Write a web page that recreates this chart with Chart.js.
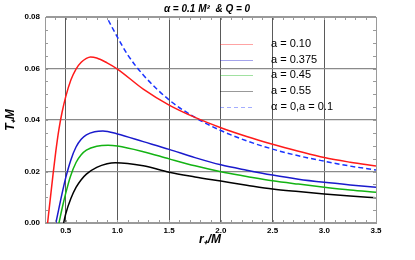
<!DOCTYPE html>
<html>
<head>
<meta charset="utf-8">
<script src="https://cdn.jsdelivr.net/npm/chart.js@4"></script>
<style>
  html, body { margin: 0; padding: 0; background: #fff; }
  #wrap { width: 415px; height: 260px; }
</style>
</head>
<body>
<div id="wrap"><canvas id="chart" width="415" height="260"></canvas></div>
<script>
// данные кривых T(r)
const rA010 = [0.325, 0.35, 0.378, 0.405, 0.433, 0.465, 0.5, 0.55, 0.6, 0.65, 0.7, 0.74, 0.8, 0.9, 1.0, 1.25, 1.5, 1.75, 2.0, 2.25, 2.5, 2.75, 3.0, 3.25, 3.5];
const tA010 = [0, 0.009, 0.019, 0.028, 0.036, 0.043, 0.049, 0.0555, 0.0598, 0.0624, 0.0639, 0.0645, 0.0641, 0.0622, 0.0598, 0.052, 0.0458, 0.041, 0.037, 0.0336, 0.0306, 0.0279, 0.0254, 0.0236, 0.0221];

const rA0375 = [0.405, 0.43, 0.46, 0.5, 0.55, 0.6, 0.65, 0.7, 0.78, 0.86, 1.0, 1.25, 1.5, 1.75, 2.0, 2.25, 2.5, 2.75, 3.0, 3.25, 3.5];
const tA0375 = [0, 0.0048, 0.0105, 0.0175, 0.0245, 0.0295, 0.0325, 0.0342, 0.0354, 0.0357, 0.0346, 0.0316, 0.0286, 0.0254, 0.0226, 0.0205, 0.0186, 0.017, 0.0158, 0.0148, 0.0139];

const rA045 = [0.435, 0.47, 0.5, 0.545, 0.6, 0.65, 0.7, 0.8, 0.91, 1.0, 1.25, 1.5, 1.75, 2.0, 2.25, 2.5, 2.75, 3.0, 3.25, 3.5];
const tA045 = [0, 0.0065, 0.0115, 0.018, 0.0235, 0.0265, 0.0283, 0.0298, 0.0302, 0.0299, 0.0277, 0.0249, 0.0222, 0.0199, 0.0181, 0.0164, 0.0151, 0.0139, 0.0128, 0.0119];

const rA055 = [0.48, 0.5, 0.55, 0.6, 0.65, 0.7, 0.8, 0.9, 0.98, 1.25, 1.5, 1.75, 2.0, 2.25, 2.5, 2.75, 3.0, 3.25, 3.5];
const tA055 = [0, 0.0035, 0.0095, 0.0138, 0.0168, 0.019, 0.0216, 0.023, 0.0234, 0.0222, 0.0197, 0.0179, 0.0163, 0.0147, 0.0132, 0.0122, 0.0113, 0.0105, 0.0098];

// штриховая: alpha = 0, a = 0.1
const rAlpha0 = [0.88, 0.9, 1.0, 1.1, 1.25, 1.5, 1.75, 2.0, 2.25, 2.5, 2.75, 3.0, 3.25, 3.5];
const tAlpha0 = [0.0816, 0.0798, 0.0722, 0.0653, 0.0575, 0.0478, 0.041, 0.0359, 0.0319, 0.0287, 0.0261, 0.024, 0.0221, 0.0206];

const xTicks = [0.5, 1.0, 1.5, 2.0, 2.5, 3.0, 3.5];
const yTicks = [0, 0.02, 0.04, 0.06, 0.08];
const seriesLabels = ["a = 0.10", "a = 0.375", "a = 0.45", "a = 0.55", "α = 0,a = 0.1"];
const seriesColors = ["#ff1a1a", "#1a1acc", "#13b313", "#000000", "#1a33ff"];

function pts(xs, ys) {
  return xs.map((x, i) => ({ x: x, y: ys[i] }));
}

const datasets = [
  { data: pts(rA010, tA010) },
  { data: pts(rA0375, tA0375) },
  { data: pts(rA045, tA045) },
  { data: pts(rA055, tA055) },
  { data: pts(rAlpha0, tAlpha0), borderDash: [5, 3] },
].map((d, i) => Object.assign({
  label: seriesLabels[i],
  borderColor: seriesColors[i],
  borderWidth: 1.5,
  pointRadius: 0,
  fill: false,
  cubicInterpolationMode: "monotone",
}, d));

const FRAME = "#9a9a9a";

// рамка, мелкие засечки, подписи осей, заголовок и легенда
const decor = {
  id: "decor",
  afterDraw(chart) {
    const c = chart.ctx;
    const a = chart.chartArea;
    const xs = chart.scales.x, ys = chart.scales.y;
    c.save();
    c.strokeStyle = FRAME;
    c.lineWidth = 1;
    // засечки
    c.beginPath();
    for (let v = 0.3; v <= 3.501; v += 0.1) {
      const px = Math.round(xs.getPixelForValue(v)) + 0.5;
      c.moveTo(px, a.bottom); c.lineTo(px, a.bottom - 3);
      c.moveTo(px, a.top); c.lineTo(px, a.top + 3);
    }
    for (let v = 0; v <= 0.0801; v += 0.005) {
      const py = Math.round(ys.getPixelForValue(v)) + 0.5;
      c.moveTo(a.left, py); c.lineTo(a.left + 3, py);
      c.moveTo(a.right, py); c.lineTo(a.right - 3, py);
    }
    c.stroke();
    c.strokeRect(Math.round(a.left) + 0.5, Math.round(a.top) + 0.5, Math.round(a.right - a.left), Math.round(a.bottom - a.top));

    // заголовок
    c.fillStyle = "#000";
    c.font = "italic bold 10px 'Liberation Sans', Arial, sans-serif";
    c.textAlign = "center";
    c.textBaseline = "middle";
    c.fillText("α = 0.1 M²  & Q = 0", 207, 9);

    // подписи осей
    c.font = "italic bold 12px 'Liberation Sans', Arial, sans-serif";
    c.fillText("r₊/M", 210, 240);
    c.save();
    c.translate(11, 120);
    c.rotate(-Math.PI / 2);
    c.fillText("T₊M", 0, 0);
    c.restore();

    // легенда
    c.font = "11px 'Liberation Sans', Arial, sans-serif";
    c.textAlign = "left";
    const rows = [44, 60, 75, 91, 107];
    rows.forEach((y, i) => {
      c.strokeStyle = seriesColors[i];
      c.globalAlpha = 0.4;
      c.lineWidth = 1;
      c.setLineDash(i === 4 ? [4, 3] : []);
      c.beginPath();
      c.moveTo(220, y + 0.5); c.lineTo(253, y + 0.5);
      c.stroke();
      c.globalAlpha = 1;
      c.setLineDash([]);
      c.fillStyle = "#000";
      c.fillText(seriesLabels[i], 271, y);
    });
    c.restore();
  },
};

const ctx = document.getElementById("chart").getContext("2d");
new Chart(ctx, {
  type: "line",
  data: { datasets: datasets },
  options: {
    responsive: false,
    animation: false,
    layout: { padding: { left: 0, right: 39, top: 17, bottom: 0 } },
    plugins: { legend: { display: false }, tooltip: { enabled: false } },
    scales: {
      x: {
        type: "linear",
        min: 0.3,
        max: 3.5,
        afterBuildTicks: (s) => { s.ticks = xTicks.map((v) => ({ value: v })); },
        afterFit: (s) => { s.height = 37; },
        grid: {
          drawTicks: false,
          color: (c) => (c.tick && c.tick.value === 3.5 ? FRAME : "#5a5a5a"),
        },
        border: { color: FRAME },
        ticks: {
          padding: 3,
          color: "#000",
          font: { family: "'Liberation Sans', Arial, sans-serif", size: 8, weight: "bold" },
          callback: (v) => v.toFixed(1),
        },
      },
      y: {
        min: 0,
        max: 0.08,
        afterBuildTicks: (s) => { s.ticks = yTicks.map((v) => ({ value: v })); },
        afterFit: (s) => { s.width = 45; },
        grid: {
          drawTicks: false,
          color: (c) => (c.tick && (c.tick.value === 0 || c.tick.value === 0.08) ? FRAME : "#8a8a8a"),
          lineWidth: 1.3,
        },
        border: { color: FRAME },
        ticks: {
          padding: 5,
          color: "#000",
          font: { family: "'Liberation Sans', Arial, sans-serif", size: 8, weight: "bold" },
          callback: (v) => v.toFixed(2),
        },
      },
    },
  },
  plugins: [decor],
});
</script>
</body>
</html>
